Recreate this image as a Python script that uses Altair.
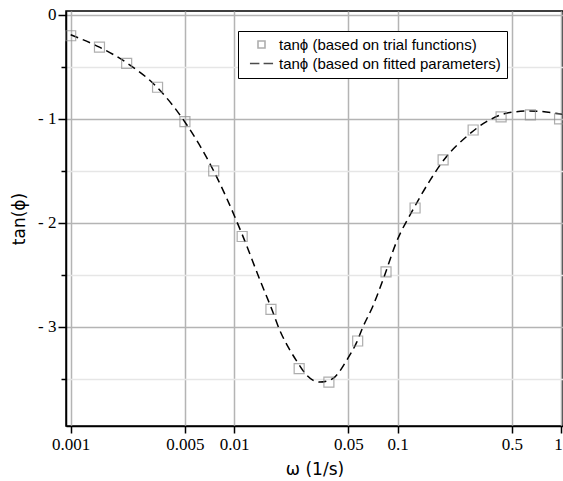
import altair as alt
import pandas as pd

# trial-function points
trial_omega = [0.001, 0.0015, 0.0022, 0.0034, 0.005, 0.0075, 0.0112, 0.0168, 0.025,
               0.038, 0.057, 0.085, 0.128, 0.19, 0.29, 0.43, 0.65, 0.98]
trial_tan = [-0.20, -0.31, -0.465, -0.695, -1.026, -1.50, -2.13, -2.83, -3.40,
             -3.53, -3.135, -2.47, -1.856, -1.394, -1.106, -0.98, -0.96, -1.0]

# fitted-parameter curve
fit_omega = [0.001, 0.0015, 0.0022, 0.0034, 0.005, 0.0075, 0.0112, 0.0144, 0.017,
             0.019, 0.0219, 0.0242, 0.0277, 0.0303, 0.0335, 0.037, 0.0414, 0.0488,
             0.0561, 0.0614, 0.0706, 0.0813, 0.0986, 0.124, 0.158, 0.1995, 0.264,
             0.35, 0.464, 0.644, 1.02]
fit_tan = [-0.19, -0.31, -0.46, -0.70, -1.03, -1.50, -2.11, -2.55, -2.83,
           -3.03, -3.22, -3.33, -3.46, -3.51, -3.53, -3.52, -3.48, -3.32,
           -3.15, -3.0, -2.80, -2.55, -2.18, -1.875, -1.59, -1.36, -1.17,
           -1.026, -0.945, -0.923, -0.955]

series_names = ["tan\u03d5 (based on trial functions)", "tan\u03d5 (based on fitted parameters)"]
x_ticks = [0.001, 0.005, 0.01, 0.05, 0.1, 0.5, 1]
y_ticks = [-3.5, -3, -2.5, -2, -1.5, -1, -0.5, 0]

trial_df = pd.DataFrame({"omega": trial_omega, "tan": trial_tan, "series": series_names[0]})
fit_df = pd.DataFrame({"omega": fit_omega, "tan": fit_tan})

x_scale = alt.Scale(type="log", domain=[0.000936, 1.0286], nice=False)
y_scale = alt.Scale(domain=[-3.952, 0.038], nice=False, zero=False)

x_axis = alt.Axis(
    title="\u03c9 (1/s)", values=x_ticks, format="~g", labelFlush=False,
    labelFont="Liberation Serif", labelFontSize=17, labelColor="black",
    labelPadding=3, tickSize=7, tickColor="black", tickWidth=1.5,
    labelOffset={"condition": {"test": "datum.value == 1", "value": -3}, "value": 0},
    domainColor="black", domainWidth=1.5,
    grid=True, gridColor="#b4b4b4", gridWidth=1.5,
    titleFont="DejaVu Sans", titleFontSize=17, titleFontWeight="normal",
    titleColor="black", titlePadding=9,
)
y_axis = alt.Axis(
    title="tan(\u03d5)", values=y_ticks,
    labelExpr="datum.value % 1 != 0 ? '' : (datum.value < 0 ? '- ' + (-datum.value) : '0')",
    labelFont="Liberation Serif", labelFontSize=17, labelColor="black",
    labelPadding=2, tickColor="black", tickWidth=1.5,
    tickSize={"condition": {"test": "datum.value % 1 == 0", "value": 8}, "value": 5},
    domainColor="black", domainWidth=1.5,
    grid=True, gridWidth=1.5,
    gridColor={"condition": {"test": "datum.value % 1 == 0", "value": "#b4b4b4"}, "value": "#e6e6e6"},
    titleFont="DejaVu Sans", titleFontSize=17, titleFontWeight="normal",
    titleColor="black", titlePadding=9,
)

legend = alt.Legend(
    title=None, orient="none", legendX=172, legendY=20,
    strokeColor="black", fillColor="white", padding=6, cornerRadius=0,
    labelFont="Liberation Sans", labelFontSize=15, labelColor="black", labelLimit=400,
    symbolSize=49, symbolStrokeWidth=1.6, symbolOffset=10, labelOffset=10,
    rowPadding=3,
)

line = alt.Chart(fit_df).mark_line(color="black", strokeWidth=1.5, strokeDash=[8, 5],
                                   interpolate="monotone").encode(
    x=alt.X("omega:Q", scale=x_scale, axis=x_axis),
    y=alt.Y("tan:Q", scale=y_scale, axis=y_axis),
)

points = alt.Chart(trial_df).mark_point(shape="square", filled=False, size=100, strokeWidth=1.2).encode(
    x=alt.X("omega:Q", scale=x_scale),
    y=alt.Y("tan:Q", scale=y_scale),
    color=alt.Color("series:N",
                    scale=alt.Scale(domain=series_names, range=["#8c8c8c", "black"]),
                    legend=legend),
    shape=alt.Shape("series:N",
                    scale=alt.Scale(domain=series_names, range=["square", "M-3.3,0H-0.6M0.6,0H3.3"]),
                    legend=legend),
)

chart = alt.layer(line, points).properties(
    width=497, height=415,
    padding={"left": 66, "top": 11, "right": 0, "bottom": 55},
    autosize=alt.AutoSizeParams(type="none"),
    background="white",
).configure_view(
    stroke="black", strokeWidth=1.5,
)

chart.save("out.html", embed_options={"renderer": "svg", "actions": False})
